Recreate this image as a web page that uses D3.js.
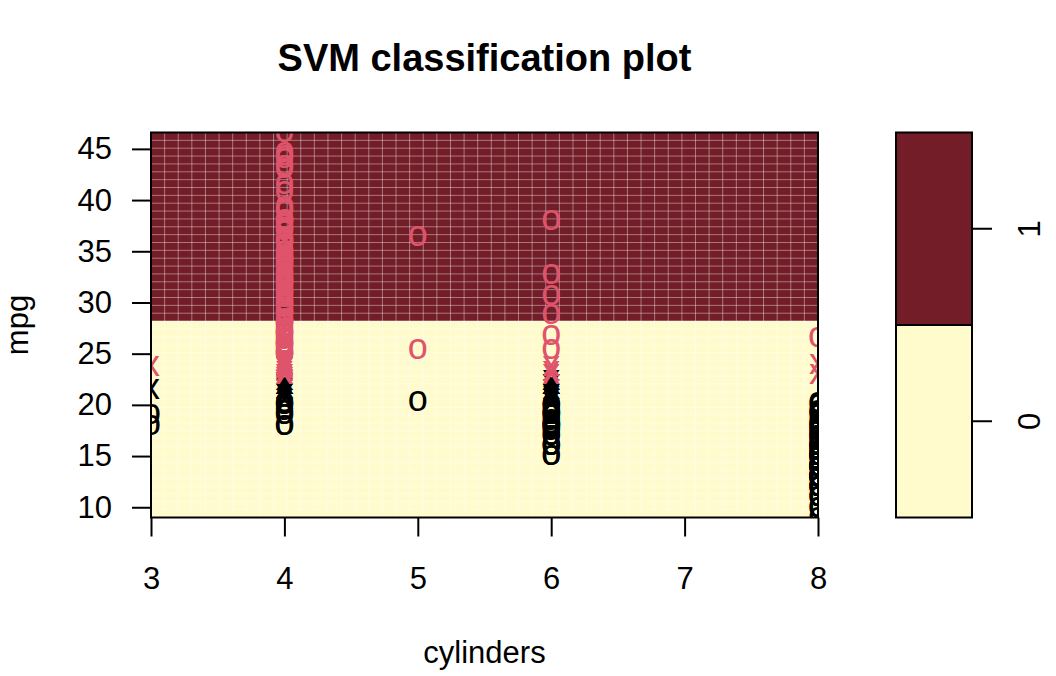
<!DOCTYPE html>
<html><head><meta charset="utf-8">
<script src="https://cdn.jsdelivr.net/npm/d3@7"></script>
<style>
body{margin:0;background:#fff}
text{font-family:"Liberation Sans",Arial,Helvetica,sans-serif}
</style>
</head><body>
<svg id="c" width="1056" height="676"></svg>
<script>
// ---------------- data ----------------
const cylinderTicks = [3, 4, 5, 6, 7, 8];
const mpgTicks = [10, 15, 20, 25, 30, 35, 40, 45];
const classLabels = ["0", "1"];
const medianMpg = 22.75;      // mpg01 = mpg > median
const boundaryMpg = 28.2;     // predicted class boundary in this slice

// mpg of non-support-vector points ("o") per cylinder count
const dataCyl3 = [18, 19];
const dataCyl4 = [18, 18, 19, 19, 19.4, 20, 20, 20.2,
  25, 25, 25, 25, 25, 25.1, 25.4, 25.5, 25.8, 26, 26, 26, 26, 26, 26, 26.4, 26.5, 26.6,
  27, 27, 27, 27, 27, 27.2, 27.2, 27.4, 27.5, 27.9, 28, 28, 28, 28, 28, 28.1, 28.4,
  29, 29, 29, 29, 29, 29.5, 29.8, 29.9, 30, 30, 30, 30, 30.5, 30.9, 31, 31, 31, 31.3,
  31.5, 31.6, 31.8, 31.9, 32, 32, 32.1, 32.2, 32.3, 32.4, 32.8, 32.9, 33, 33.5, 33.7,
  33.8, 34, 34.1, 34.1, 34.2, 34.3, 34.4, 34.5, 34.7, 35, 35, 35.1, 35.7, 36, 36, 36.1,
  36.1, 37, 37, 37.2, 37.3, 37.7, 38, 38, 38, 38.1, 39, 39.1, 39.4, 40.8, 41.5, 43.1,
  43.4, 44, 44.3, 44.6, 46.6];
const dataCyl5 = [20.3, 25.4, 36.4];
const dataCyl6 = [15, 15, 16, 16, 16, 16, 17, 17, 17, 17.5, 17.6, 17.7, 18, 18, 18, 18, 18,
  18, 18.1, 18.1, 18.2, 18.5, 18.6, 19, 19, 19, 19, 19.1, 19.2, 19.2, 19.4, 19.8, 20, 20,
  20, 25.4, 26.8, 28.8, 30.7, 32.7, 38];
const dataCyl8 = [9, 10, 10, 11, 11, 11, 12, 12, 12, 12, 12, 12, 13, 13, 13, 13, 13, 13, 13,
  13, 13, 13, 13, 13, 13, 13, 13, 13, 13, 13, 13, 13, 14, 14, 14, 14, 14, 14, 14, 14, 14,
  14, 14, 14, 14, 14, 14, 14, 14, 14, 14.5, 15, 15, 15, 15, 15, 15, 15, 15, 15, 15, 15, 15,
  15, 15.5, 15.5, 15.5, 15.5, 16, 16, 16, 16, 16, 16, 16, 16.5, 16.5, 16.9, 17, 17, 17, 17,
  17.5, 17.5, 17.6, 18, 18, 18, 18.1, 18.2, 18.5, 19, 19.2, 19.2, 19.4, 20, 20.2, 26.6];

// mpg of support vectors ("x") per cylinder count
const svCyl3 = [21.5, 23.7];
const svCyl4 = [20.5, 21, 21, 21.1, 21.5, 21.6, 22, 22, 22, 22.4,
  23, 23, 23, 23.2, 23.5, 23.6, 23.7, 23.8, 23.9, 24, 24, 24, 24.2, 24.3, 24.5];
const svCyl5 = [];
const svCyl6 = [20.2, 20.5, 20.6, 20.8, 21, 21, 21, 21, 21.5, 22, 22, 22, 22.4, 23, 23.2, 23.7];
const svCyl8 = [23, 23.9];

// ---------------- build ----------------
const groups = [
  [3, dataCyl3, svCyl3], [4, dataCyl4, svCyl4], [5, dataCyl5, svCyl5],
  [6, dataCyl6, svCyl6], [8, dataCyl8, svCyl8]
];
const points = [];
groups.forEach(([cyl, d, sv]) => {
  d.forEach(m => points.push({cyl, mpg: m, sv: false}));
  sv.forEach(m => points.push({cyl, mpg: m, sv: true}));
});

const regionColors = ["#FFFBCD", "#731D28"];
const pointColors = ["#000000", "#DF536B"];
const font = 31;
const symFont = 36;

const svg = d3.select("#c");
const L = 151, R = 818, T = 132.5, B = 517.5;

const x = d3.scaleLinear().domain(d3.extent(points, p => p.cyl)).range([L, R]);
const y = d3.scaleLinear().domain(d3.extent(points, p => p.mpg)).range([B, T]);

svg.append("clipPath").attr("id", "clip")
  .append("rect").attr("x", L).attr("y", T).attr("width", R - L).attr("height", B - T);

const plot = svg.append("g").attr("clip-path", "url(#clip)");
const [ymin, ymax] = y.domain();
// predicted class regions
plot.append("rect").attr("x", L).attr("width", R - L)
  .attr("y", y(boundaryMpg)).attr("height", y(ymin) - y(boundaryMpg))
  .attr("fill", regionColors[0]);
plot.append("rect").attr("x", L).attr("width", R - L)
  .attr("y", y(ymax)).attr("height", y(boundaryMpg) - y(ymax))
  .attr("fill", regionColors[1]);

// grid seams from the 50x50 prediction grid
const gridN = 50;
const [x0, x1] = x.domain();
for (let i = 1; i < gridN - 1; i++) {
  const xv = x0 + i * (x1 - x0) / (gridN - 1);
  plot.append("line").attr("x1", x(xv)).attr("x2", x(xv)).attr("y1", T).attr("y2", B)
    .attr("stroke", "#fff").attr("stroke-opacity", 0.4).attr("stroke-width", 1);
  const yv = ymin + i * (ymax - ymin) / (gridN - 1);
  plot.append("line").attr("y1", y(yv)).attr("y2", y(yv)).attr("x1", L).attr("x2", R)
    .attr("stroke", "#fff").attr("stroke-opacity", 0.4).attr("stroke-width", 1);
}

// points
plot.selectAll("text.pt").data(points).join("text").attr("class", "pt")
  .attr("x", d => x(d.cyl)).attr("y", d => y(d.mpg))
  .attr("dy", "0.26em").attr("text-anchor", "middle")
  .attr("font-size", symFont)
  .attr("fill", d => pointColors[d.mpg > medianMpg ? 1 : 0])
  .text(d => d.sv ? "x" : "o");

// box
svg.append("rect").attr("x", L).attr("y", T).attr("width", R - L).attr("height", B - T)
  .attr("fill", "none").attr("stroke", "#000").attr("stroke-width", 2);

// axes
const yAxis = svg.append("g").attr("transform", `translate(${L},0)`)
  .call(d3.axisLeft(y).tickValues(mpgTicks).tickSize(19).tickPadding(20));
yAxis.select(".domain").remove();
yAxis.selectAll("line").attr("stroke-width", 2);
yAxis.selectAll("text").attr("font-size", font).attr("font-family", null).attr("fill", "#000");

const xAxis = svg.append("g").attr("transform", `translate(0,${B})`)
  .call(d3.axisBottom(x).tickValues(cylinderTicks).tickFormat(d3.format("d")).tickSize(19).tickPadding(30));
xAxis.select(".domain").remove();
xAxis.selectAll("line").attr("stroke-width", 2);
xAxis.selectAll("text").attr("font-size", font).attr("font-family", null).attr("fill", "#000");

// titles
svg.append("text").attr("x", (L + R) / 2).attr("y", 71).attr("text-anchor", "middle")
  .attr("font-size", 38).attr("font-weight", "bold").text("SVM classification plot");
svg.append("text").attr("x", (L + R) / 2).attr("y", 663).attr("text-anchor", "middle")
  .attr("font-size", font).text("cylinders");
svg.append("text").attr("transform", `translate(28,${(T + B) / 2}) rotate(-90)`)
  .attr("text-anchor", "middle").attr("font-size", font).text("mpg");

// key
const KL = 896, KR = 972;
const key = d3.scaleBand().domain(classLabels.slice().reverse()).range([T, B]);
svg.selectAll("rect.key").data(classLabels).join("rect").attr("class", "key")
  .attr("x", KL).attr("width", KR - KL)
  .attr("y", d => key(d)).attr("height", key.bandwidth())
  .attr("fill", (d, i) => regionColors[i]).attr("stroke", "#000").attr("stroke-width", 2);
const kAxis = svg.append("g").attr("transform", `translate(${KR},0)`)
  .call(d3.axisRight(key).tickSize(20).tickPadding(0));
kAxis.select(".domain").remove();
kAxis.selectAll("line").attr("stroke-width", 2);
kAxis.selectAll("text").attr("font-size", font).attr("font-family", null).attr("fill", "#000")
  .attr("x", null).attr("dy", null).attr("text-anchor", "middle")
  .attr("transform", "translate(68,0) rotate(-90)");
</script>
</body></html>
